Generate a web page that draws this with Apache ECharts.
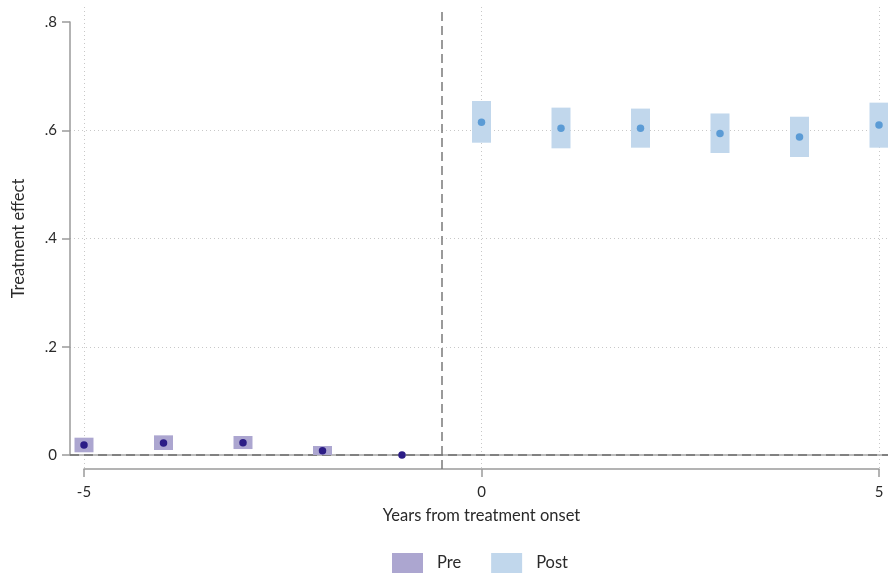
<!DOCTYPE html>
<html>
<head>
<meta charset="utf-8">
<script src="https://cdn.jsdelivr.net/npm/echarts@6/dist/echarts.min.js"></script>
<style>html,body{margin:0;padding:0;background:#fff}#c{width:888px;height:576px}</style>
</head>
<body>
<div id="c"></div>
<script>
// ---- data ----
const yearsPre = [-5, -4, -3, -2, -1];
const estPre   = [0.0185, 0.022, 0.0228, 0.008, 0.0];
const loPre    = [0.005, 0.0092, 0.011, 0.0, 0.0];
const hiPre    = [0.032, 0.0363, 0.0351, 0.0166, 0.0];

const yearsPost = [0, 1, 2, 3, 4, 5];
const estPost   = [0.6147, 0.6036, 0.6036, 0.594, 0.5875, 0.6097];
const loPost    = [0.577, 0.5666, 0.5678, 0.558, 0.5506, 0.5678];
const hiPost    = [0.654, 0.6418, 0.640, 0.631, 0.625, 0.651];

const xTicks = [-5, 0, 5];
const yTicks = [0, 0.2, 0.4, 0.6, 0.8];
const yTickLabels = ['0', '.2', '.4', '.6', '.8'];
const treatmentLine = -0.5;
const zeroLine = 0;

const FONT = 'Lato';
const preBox = '#aca6d0', prePt = '#2c1d86';
const postBox = '#c1d7ec', postPt = '#5b9bd5';

function boxRender(color) {
  return function (params, api) {
    const x = api.value(0), lo = api.value(1), hi = api.value(2);
    const a = api.coord([x, hi]);
    const b = api.coord([x, lo]);
    const w = 19;
    return {
      type: 'rect',
      shape: { x: a[0] - w / 2, y: a[1], width: w, height: b[1] - a[1] },
      style: { fill: color }
    };
  };
}

const chart = echarts.init(document.getElementById('c'), null, { renderer: 'canvas' });
chart.setOption({
  animation: false,
  backgroundColor: '#fff',
  textStyle: { fontFamily: FONT },
  grid: [
    { left: 84, right: 9, top: 7, bottom: 107 },   // x-axis frame
    { left: 70, right: 0, top: 22, bottom: 121 },  // y-axis frame
    { left: 84, right: 9, top: 22, bottom: 121 }   // data
  ],
  xAxis: [
    {
      gridIndex: 0, type: 'value', min: xTicks[0], max: xTicks[xTicks.length - 1], interval: 5,
      axisLine: { show: true, lineStyle: { color: '#9a9a9a', width: 1.5 } },
      axisTick: { show: true, length: 8, lineStyle: { color: '#9a9a9a', width: 1.5 } },
      axisLabel: { color: '#2a2a2a', fontSize: 15, fontFamily: FONT, margin: 16,
        formatter: v => String(v) },
      splitLine: { show: true, lineStyle: { color: '#c8c8c8', type: [1, 3], width: 1 } },
      name: 'Years from treatment onset', nameLocation: 'middle', nameGap: 38,
      nameTextStyle: { color: '#2a2a2a', fontSize: 16.5, fontFamily: FONT }
    },
    { gridIndex: 1, type: 'value', min: 0, max: 1, show: false },
    { gridIndex: 2, type: 'value', min: xTicks[0], max: xTicks[xTicks.length - 1], show: false }
  ],
  yAxis: [
    { gridIndex: 0, type: 'value', min: 0, max: 1, show: false },
    {
      gridIndex: 1, type: 'value', min: yTicks[0], max: yTicks[yTicks.length - 1], interval: 0.2,
      axisLine: { show: true, lineStyle: { color: '#9a9a9a', width: 1.5 } },
      axisTick: { show: true, length: 8, lineStyle: { color: '#9a9a9a', width: 1.5 } },
      axisLabel: { color: '#2a2a2a', fontSize: 15, fontFamily: FONT, margin: 13,
        formatter: v => { const i = yTicks.findIndex(t => Math.abs(t - v) < 1e-9); return i >= 0 ? yTickLabels[i] : ''; } },
      splitLine: { show: true, showMinLine: false, showMaxLine: false,
        lineStyle: { color: '#c8c8c8', type: [1, 3], width: 1 } },
      name: 'Treatment effect', nameLocation: 'middle', nameGap: 43, nameRotate: 90,
      nameTextStyle: { color: '#2a2a2a', fontSize: 16.5, fontFamily: FONT }
    },
    { gridIndex: 2, type: 'value', min: yTicks[0], max: yTicks[yTicks.length - 1], show: false }
  ],
  legend: {
    top: 553, left: 392, padding: 0, itemWidth: 31, itemHeight: 20, itemGap: 30,
    textStyle: { color: '#2a2a2a', fontSize: 16.5, fontFamily: FONT, padding: [0, 0, 0, 9] },
    data: [
      { name: 'Pre', icon: 'rect', itemStyle: { color: preBox } },
      { name: 'Post', icon: 'rect', itemStyle: { color: postBox } }
    ]
  },
  series: [
    { // vertical treatment line
      type: 'line', xAxisIndex: 0, yAxisIndex: 0, data: [], silent: true, z: 1,
      markLine: { symbol: 'none', silent: true, label: { show: false }, z: 1,
        lineStyle: { color: '#7a7a7a', type: [9, 5], width: 1.5 },
        data: [{ xAxis: treatmentLine }] }
    },
    { // zero line solid base
      type: 'line', xAxisIndex: 1, yAxisIndex: 1, data: [], silent: true, z: 1,
      markLine: { symbol: 'none', silent: true, label: { show: false }, z: 1,
        lineStyle: { color: '#a6a6a6', type: 'solid', width: 1.5 },
        data: [{ yAxis: zeroLine }] }
    },
    { // zero line dashes
      type: 'line', xAxisIndex: 1, yAxisIndex: 1, data: [], silent: true, z: 2,
      markLine: { symbol: 'none', silent: true, label: { show: false }, z: 2,
        lineStyle: { color: '#6e6e6e', type: [9, 5], width: 1.5 },
        data: [{ yAxis: zeroLine }] }
    },
    {
      name: 'Pre', type: 'custom', xAxisIndex: 2, yAxisIndex: 2, z: 5, clip: false,
      itemStyle: { color: preBox },
      renderItem: boxRender(preBox),
      encode: { x: 0, y: [1, 2] },
      data: yearsPre.map((x, i) => [x, loPre[i], hiPre[i]])
    },
    {
      name: 'Post', type: 'custom', xAxisIndex: 2, yAxisIndex: 2, z: 5, clip: false,
      itemStyle: { color: postBox },
      renderItem: boxRender(postBox),
      encode: { x: 0, y: [1, 2] },
      data: yearsPost.map((x, i) => [x, loPost[i], hiPost[i]])
    },
    {
      name: 'PreEst', type: 'scatter', xAxisIndex: 2, yAxisIndex: 2, z: 10, clip: false,
      symbol: 'circle', symbolSize: 7.5, itemStyle: { color: prePt, opacity: 1 },
      data: yearsPre.map((x, i) => [x, estPre[i]])
    },
    {
      name: 'PostEst', type: 'scatter', xAxisIndex: 2, yAxisIndex: 2, z: 10, clip: false,
      symbol: 'circle', symbolSize: 7.5, itemStyle: { color: postPt, opacity: 1 },
      data: yearsPost.map((x, i) => [x, estPost[i]])
    }
  ]
});
</script>
</body>
</html>
